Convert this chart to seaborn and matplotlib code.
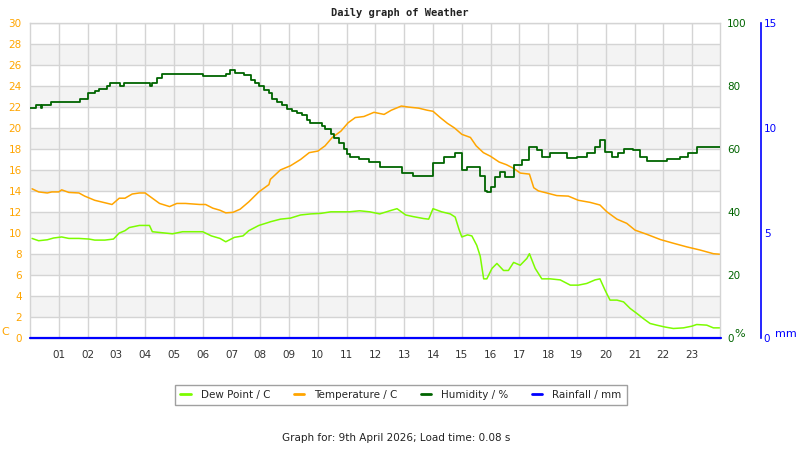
import matplotlib
matplotlib.use("Agg")
import matplotlib.pyplot as plt
from matplotlib.lines import Line2D
import seaborn as sns
import pandas as pd

# ---------------- data ----------------
hour_ticks = list(range(1, 24))
hour_labels = [f"{h:02d}" for h in hour_ticks]

temp_hours = [0.07, 0.3, 0.6, 0.76, 1.0, 1.1, 1.35, 1.7, 1.9, 2.25, 2.55, 2.85, 3.1, 3.3, 3.55, 3.8,
              4.0, 4.25, 4.5, 4.85, 5.1, 5.4, 5.9, 6.1, 6.35, 6.6, 6.8, 7.05, 7.3, 7.6, 7.95, 8.3,
              8.35, 8.7, 9.05, 9.4, 9.7, 10.0, 10.25, 10.5, 10.8, 11.05, 11.3, 11.6, 11.95, 12.3,
              12.55, 12.9, 13.15, 13.5, 13.8, 14.0, 14.25, 14.5, 14.75, 15.0, 15.3, 15.5, 15.75,
              16.0, 16.3, 16.55, 16.8, 17.03, 17.35, 17.5, 17.66, 17.95, 18.3, 18.7, 19.05, 19.46,
              19.8, 20.04, 20.39, 20.73, 21.02, 21.43, 21.9, 22.35, 22.82, 23.28, 23.74, 23.97]
temp_values = [14.2, 13.9, 13.8, 13.9, 13.9, 14.1, 13.85, 13.8, 13.5, 13.1, 12.9, 12.7, 13.3, 13.3, 13.7, 13.8,
               13.8, 13.3, 12.8, 12.5, 12.8, 12.8, 12.7, 12.7, 12.35, 12.15, 11.9, 11.95, 12.25, 12.95, 13.9, 14.6,
               15.1, 16.0, 16.4, 17.0, 17.65, 17.8, 18.3, 19.1, 19.7, 20.5, 21.0, 21.1, 21.5, 21.3,
               21.7, 22.1, 22.0, 21.9, 21.7, 21.6, 21.0, 20.45, 20.0, 19.4, 19.1, 18.3, 17.65,
               17.3, 16.75, 16.5, 16.15, 15.7, 15.6, 14.3, 14.0, 13.8, 13.55, 13.5, 13.1, 12.9,
               12.65, 12.0, 11.3, 10.9, 10.25, 9.85, 9.35, 9.0, 8.65, 8.35, 8.0, 7.95]

dew_hours = [0.07, 0.3, 0.6, 0.82, 1.1, 1.35, 1.7, 2.05, 2.25, 2.6, 2.9, 3.1, 3.3, 3.45, 3.8, 4.15,
             4.25, 4.6, 4.95, 5.3, 5.65, 6.0, 6.3, 6.6, 6.8, 7.1, 7.4, 7.6, 7.95, 8.3,
             8.35, 8.7, 9.05, 9.4, 9.75, 10.1, 10.45, 10.8, 11.1, 11.45, 11.8, 12.15, 12.5, 12.75,
             13.05, 13.3, 13.67, 13.85, 14.0, 14.3, 14.6, 14.77, 14.9, 15.0, 15.2, 15.35, 15.52,
             15.64, 15.76, 15.87, 16.05, 16.22, 16.45, 16.62, 16.8, 17.03, 17.26, 17.35, 17.55,
             17.78, 18.07, 18.42, 18.77, 19.05, 19.34, 19.63, 19.8, 19.98, 20.15, 20.39, 20.62,
             20.85, 21.08, 21.31, 21.54, 21.77, 22.06, 22.35, 22.7, 22.99, 23.16, 23.51, 23.74, 23.97]
dew_values = [9.46, 9.24, 9.33, 9.5, 9.6, 9.46, 9.46, 9.4, 9.3, 9.3, 9.4, 9.97, 10.2, 10.5, 10.7, 10.7,
              10.1, 10.0, 9.9, 10.1, 10.1, 10.1, 9.7, 9.46, 9.14, 9.56, 9.7, 10.2, 10.7, 11.0,
              11.05, 11.3, 11.4, 11.7, 11.8, 11.85, 12.0, 12.0, 12.0, 12.1, 12.0, 11.8, 12.1, 12.3,
              11.7, 11.55, 11.36, 11.3, 12.3, 12.0, 11.8, 11.5, 10.35, 9.6, 9.8, 9.7, 8.8,
              7.77, 5.6, 5.6, 6.6, 7.07, 6.4, 6.4, 7.17, 6.9, 7.55, 8.0, 6.6,
              5.6, 5.6, 5.5, 5.0, 5.0, 5.16, 5.5, 5.6, 4.5, 3.57, 3.57, 3.4,
              2.77, 2.3, 1.8, 1.34, 1.18, 1.0, 0.86, 0.92, 1.08, 1.24, 1.18, 0.92, 0.92]

hum_hours = [0.0, 0.2, 0.37, 0.43, 0.73, 1.72, 2.03, 2.26, 2.4, 2.67, 2.78, 3.13, 3.25, 4.17, 4.25, 4.4,
             4.58, 6.0, 6.8, 6.95, 7.12, 7.43, 7.66, 7.83, 7.95, 8.12, 8.3, 8.41, 8.59, 8.76, 8.93,
             9.1, 9.28, 9.45, 9.63, 9.74, 10.15, 10.26, 10.44, 10.55, 10.73, 10.9, 11.02, 11.13,
             11.42, 11.77, 12.17, 12.63, 12.92, 13.32, 13.8, 14.0, 14.37,
             14.77, 15.0, 15.18, 15.46, 15.64, 15.81, 15.87, 16.0, 16.16, 16.33, 16.5, 16.68, 16.8,
             17.1, 17.35, 17.6, 17.78, 18.07, 18.42, 18.65, 19.0, 19.34, 19.63, 19.8, 19.98, 20.21,
             20.44, 20.62, 20.96, 21.2, 21.43, 21.72, 22.12, 22.58, 22.87, 23.16, 23.63, 23.97]
hum_values = [73, 74, 73, 74, 75, 76, 77.7, 78.4, 79, 80, 81, 80, 81, 80, 81, 82.5,
              84, 83.2, 84, 85, 84.2, 83.4, 82.1, 81.1, 80, 78.9, 77.9, 76, 74.9, 73.9, 72.8,
              72.1, 71.5, 70.7, 69.2, 68.2, 67.3, 66.2, 64.7, 63.6, 62, 59.9, 58.3, 57.3,
              56.7, 55.7, 54.4, 54.2, 52.3, 51.4, 51.4, 55.5, 57.4,
              58.6, 53.3, 54.4, 54.4, 51.5, 46.5, 46.4, 48, 51.2, 52.8, 51.2, 51.2, 55,
              56.5, 60.7, 59.7, 57.3, 58.6, 58.8, 57, 57.5, 58.6, 60.7, 62.8, 59.1, 57.3,
              58.6, 59.9, 59.7, 57.5, 56.2, 56.2, 56.7, 57.5, 58.8, 60.7, 60.7, 60.7]

rain_hours = [0.0, 24.0]
rain_values = [0.0, 0.0]

temp_ticks = list(range(0, 31, 2))
hum_ticks = [0, 20, 40, 60, 80, 100]
rain_ticks = [0, 5, 10, 15]

# ---------------- styling ----------------
sns.set_style("white")
plt.rcParams['font.family'] = ['DejaVu Sans']

C_DEW = "#7CFC00"
C_TEMP = "#FFA500"
C_HUM = "#006400"
C_RAIN = "#0000FF"
GRID = "#D4D4D4"

fig = plt.figure(figsize=(8, 4.5), dpi=100)
L, R, B, T = 30 / 800, 720 / 800, 1 - 337.5 / 450, 1 - 23.3 / 450
ax = fig.add_axes([L, B, R - L, T - B])
ax2 = ax.twinx()
ax3 = ax.twinx()

ax.set_xlim(0.0, 23.97)
ax.set_ylim(0, 30)
ax2.set_ylim(0, 100)
ax3.set_ylim(0, 15)

for y0 in range(2, 30, 4):
    ax.axhspan(y0, y0 + 2, color="#F3F3F3", lw=0, zorder=0)

ax.set_yticks(temp_ticks)
ax.set_yticklabels([str(t) for t in temp_ticks])
ax.set_xticks(hour_ticks)
ax.set_xticklabels(hour_labels)
ax.grid(True, color=GRID, lw=1)
ax.set_axisbelow(True)
ax.tick_params(axis='y', length=0, pad=6, colors=C_TEMP, labelsize=7.5)
ax.tick_params(axis='x', length=0, pad=9, colors="#333333", labelsize=7.5)
for s in ax.spines.values():
    s.set_color(GRID)
    s.set_linewidth(1)

df_temp = pd.DataFrame({"h": temp_hours, "v": temp_values})
df_dew = pd.DataFrame({"h": dew_hours, "v": dew_values})
df_hum = pd.DataFrame({"h": hum_hours, "v": hum_values})
df_rain = pd.DataFrame({"h": rain_hours, "v": rain_values})

sns.lineplot(data=df_dew, x="h", y="v", ax=ax, color=C_DEW, lw=1.1, estimator=None, legend=False)
sns.lineplot(data=df_temp, x="h", y="v", ax=ax, color=C_TEMP, lw=1.1, estimator=None, legend=False)
sns.lineplot(data=df_hum, x="h", y="v", ax=ax2, color=C_HUM, lw=1.3, estimator=None, drawstyle="steps-post",
             legend=False)
sns.lineplot(data=df_rain, x="h", y="v", ax=ax3, color=C_RAIN, lw=1.6, estimator=None,
             legend=False, clip_on=False)

ax.set_xlabel("")
ax.set_ylabel("")
ax2.set_ylabel("")
ax3.set_ylabel("")

ax2.set_yticks(hum_ticks)
ax2.set_yticklabels([str(t) for t in hum_ticks])
ax2.tick_params(axis='y', length=0, pad=5, colors=C_HUM, labelsize=7.5)
for s in ax2.spines.values():
    s.set_visible(False)
ax2.grid(False)

ax3.set_yticks(rain_ticks)
ax3.set_yticklabels([str(t) for t in rain_ticks])
ax3.spines['right'].set_position(('axes', (761 - 30) / 690))
for k, s in ax3.spines.items():
    s.set_visible(k == 'right')
ax3.spines['right'].set_color(C_RAIN)
ax3.spines['right'].set_linewidth(1.2)
ax3.tick_params(axis='y', length=0, pad=2, colors=C_RAIN, labelsize=7.5)
ax3.grid(False)

# axis unit labels
fig.text(5 / 800, 1 - 332 / 450, "C", color=C_TEMP, fontsize=8, ha='center', va='center')
fig.text(740 / 800, 1 - 334 / 450, "%", color=C_HUM, fontsize=8, ha='center', va='center')
fig.text(786 / 800, 1 - 334 / 450, "mm", color=C_RAIN, fontsize=8, ha='center', va='center')

fig.text(400 / 800, 1 - 13 / 450, "Daily graph of Weather", family="DejaVu Sans Mono", weight="bold",
         fontsize=7.5, ha='center', va='center', color="#222222")
fig.text(396 / 800, 1 - 438 / 450, "Graph for: 9th April 2026; Load time: 0.08 s", fontsize=7.5,
         ha='center', va='center', color="#222222")

handles = [Line2D([], [], color=c, lw=2) for c in (C_DEW, C_TEMP, C_HUM, C_RAIN)]
labels = ["Dew Point / C", "Temperature / C", "Humidity / %", "Rainfall / mm"]
leg = fig.legend(handles, labels, loc='center', bbox_to_anchor=(401 / 800, 1 - 395 / 450), ncol=4,
                 fontsize=7.5, frameon=True, fancybox=False, edgecolor="#888888", handlelength=1.0,
                 handletextpad=1.0, columnspacing=2.2, borderpad=0.5)
leg.get_frame().set_linewidth(1)

fig.savefig("out.png", dpi=100)
